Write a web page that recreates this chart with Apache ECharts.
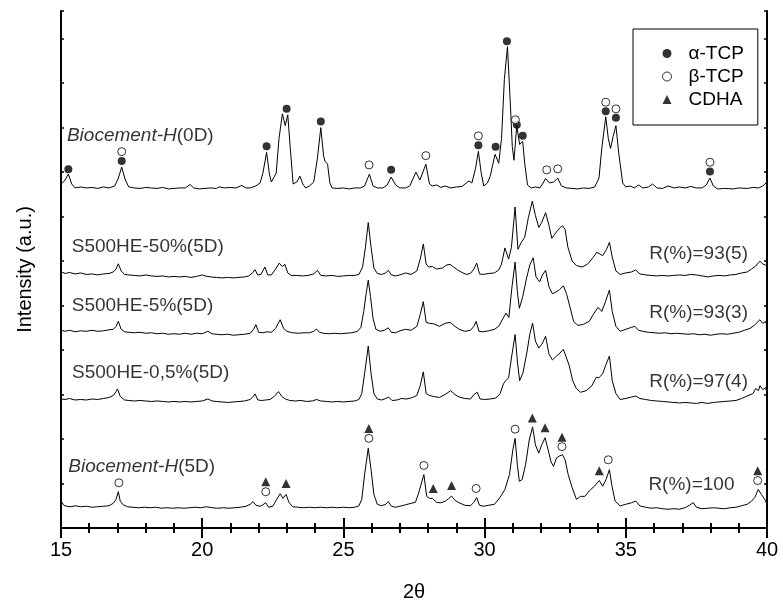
<!DOCTYPE html>
<html>
<head>
<meta charset="utf-8">
<script src="https://cdn.jsdelivr.net/npm/echarts@6/dist/echarts.min.js"></script>
<style>
html,body{margin:0;padding:0;background:#fff;}
#chart{width:783px;height:607px;}
</style>
</head>
<body>
<div id="chart"></div>
<script>
// ---- data (2θ, intensity a.u.) ----
const biocement0D = [[15.00,348],[15.12,351],[15.26,358],[15.38,348],[15.5,344],[15.7,345],[15.9,344],[16.1,344.5],[16.3,343.5],[16.5,345],[16.7,344],[16.9,346],[17.02,353],[17.15,365],[17.28,352],[17.4,345],[17.6,344],[17.8,343.5],[18.0,344.5],[18.2,344],[18.4,343.5],[18.6,344.5],[18.8,343],[19.0,343.5],[19.2,344],[19.4,344],[19.57,347.5],[19.7,344],[19.9,343],[20.1,343.5],[20.3,344],[20.5,343.5],[20.6,345],[20.8,344],[21.0,344.5],[21.2,344],[21.4,346.5],[21.55,344],[21.7,344],[21.9,346],[22.05,349],[22.15,359],[22.28,380],[22.38,358],[22.45,350],[22.52,351],[22.62,359],[22.72,394],[22.84,419],[22.94,407],[23.03,418],[23.12,384],[23.22,348],[23.35,350],[23.46,356],[23.56,348],[23.66,344],[23.8,346],[23.95,350],[24.08,374],[24.2,405],[24.3,376],[24.35,371],[24.44,368],[24.52,349],[24.6,344],[24.8,343.5],[25.0,344],[25.2,343],[25.4,344],[25.6,344],[25.75,346],[25.92,358],[26.05,346],[26.2,344],[26.4,344],[26.55,347],[26.69,355],[26.85,347],[27.0,344],[27.2,344],[27.35,346],[27.57,360],[27.71,352],[27.92,368],[28.05,348],[28.15,346],[28.3,347],[28.45,344.5],[28.6,346],[28.8,344],[29.0,345],[29.2,345.5],[29.35,349],[29.45,351],[29.55,349],[29.68,364],[29.78,381],[29.88,359],[29.97,346],[30.1,349],[30.2,356],[30.37,378],[30.5,369],[30.6,394],[30.7,454],[30.81,487],[30.92,424],[30.98,386],[31.04,372],[31.14,407],[31.24,388],[31.35,391],[31.42,369],[31.52,347],[31.65,344],[31.8,345],[31.95,344],[32.05,348],[32.16,353.5],[32.3,349],[32.45,350],[32.59,354],[32.72,346],[32.9,344],[33.1,343.5],[33.3,343],[33.5,344],[33.7,343.5],[33.9,345],[34.05,354],[34.15,384],[34.29,416],[34.38,394],[34.46,384],[34.55,396],[34.65,407],[34.75,379],[34.89,349],[35.0,345],[35.15,346],[35.3,344],[35.45,347],[35.6,344],[35.8,345],[35.95,348],[36.1,344],[36.3,343.5],[36.5,346],[36.7,344],[36.9,345],[37.1,344],[37.3,345.5],[37.5,344],[37.7,344],[37.85,347],[37.98,354],[38.1,346],[38.25,343],[38.5,343.5],[38.8,343],[39.0,344],[39.3,343.5],[39.5,344.5],[39.7,344],[39.85,346],[40.0,350]];

const s500he50 = [[15.0,259],[15.15,257.5],[15.3,258.5],[15.5,257],[15.7,258],[15.9,256.5],[16.1,257],[16.3,256],[16.5,257],[16.7,257.5],[16.85,259],[16.95,262],[17.03,267.3],[17.13,260],[17.25,256.5],[17.4,256],[17.6,255.5],[17.8,255],[18.0,256],[18.2,255],[18.4,254.5],[18.6,255],[18.8,254],[19.0,254.5],[19.2,254],[19.4,254.5],[19.6,253.5],[19.8,254.5],[20.0,256],[20.1,255],[20.3,254],[20.5,253.5],[20.7,253],[20.9,253.5],[21.1,253],[21.3,253.5],[21.5,254],[21.65,255],[21.78,258],[21.87,261.3],[21.97,256],[22.08,256.5],[22.22,264],[22.32,256],[22.45,256],[22.6,262],[22.73,268],[22.83,264.5],[22.93,266.7],[23.03,258],[23.15,255.5],[23.35,255.5],[23.55,255],[23.75,255.5],[23.95,257],[24.08,260.7],[24.2,255.5],[24.4,255],[24.6,255.5],[24.8,254.5],[25.0,255],[25.2,255.5],[25.4,255.5],[25.55,256.5],[25.68,264],[25.78,284],[25.88,309],[25.98,284],[26.08,263],[26.2,257.5],[26.35,256.5],[26.5,258],[26.59,260.7],[26.7,256],[26.85,255],[27.0,256],[27.2,258],[27.4,256.5],[27.6,260],[27.72,272],[27.83,287.3],[27.93,267],[28.02,264],[28.15,264.5],[28.3,262],[28.5,263],[28.65,266],[28.78,266.7],[28.9,264],[29.05,261],[29.2,258.5],[29.35,256.5],[29.5,257.5],[29.62,262],[29.72,268],[29.82,257],[29.95,256.5],[30.15,257.5],[30.35,258],[30.5,261],[30.6,267],[30.72,283.3],[30.85,272],[30.95,284],[31.08,324.7],[31.18,282],[31.3,289],[31.42,294],[31.55,314],[31.69,330.7],[31.8,316],[31.92,304],[32.02,309],[32.16,319],[32.28,306],[32.38,293],[32.48,297],[32.58,301],[32.68,304],[32.76,305.7],[32.85,302],[32.95,284],[33.1,270],[33.25,265.5],[33.45,264],[33.65,267],[33.85,274],[33.97,279],[34.18,275.5],[34.32,282],[34.42,289],[34.52,274],[34.65,260],[34.8,256.5],[35.0,258],[35.2,259],[35.35,261],[35.5,257],[35.7,256],[35.9,255.5],[36.1,255],[36.3,255.5],[36.5,255],[36.7,255.5],[36.9,256],[37.1,255.5],[37.3,256.5],[37.5,256],[37.7,255],[37.9,254],[38.1,255],[38.3,255.5],[38.5,255],[38.7,256],[38.9,256.5],[39.1,258],[39.3,259],[39.45,262],[39.6,265],[39.75,270],[39.85,267],[39.95,266],[40.0,264]];

const s500he5 = [[15.0,200],[15.15,199],[15.3,200],[15.5,198.5],[15.7,199.5],[15.9,199],[16.1,200],[16.3,199],[16.5,199.5],[16.7,200.5],[16.85,201],[16.95,204],[17.03,209],[17.13,201],[17.25,198.5],[17.4,198],[17.6,197.5],[17.8,198],[18.0,197],[18.2,197.5],[18.4,196.5],[18.6,197],[18.8,196],[19.0,196.5],[19.2,196],[19.4,197],[19.6,196],[19.8,197],[20.0,196.5],[20.2,199],[20.35,196.5],[20.5,196],[20.7,195.5],[20.9,196],[21.1,195],[21.3,195.5],[21.5,196],[21.7,197],[21.82,201],[21.9,205.7],[22.0,198],[22.15,197.5],[22.3,198.5],[22.45,198],[22.6,202],[22.76,210.7],[22.88,202],[23.0,199],[23.2,197.5],[23.4,197],[23.6,197.5],[23.8,197.5],[23.95,199],[24.05,201.3],[24.15,198],[24.3,197],[24.5,196.5],[24.7,197],[24.9,196.5],[25.1,197],[25.3,197.5],[25.5,199],[25.62,203],[25.72,219],[25.8,236],[25.88,250.7],[25.96,234],[26.05,212],[26.15,201],[26.3,199],[26.45,200],[26.59,202.5],[26.7,198],[26.85,197.5],[27.0,199.5],[27.2,201],[27.4,200],[27.6,204],[27.72,216],[27.83,229],[27.93,208],[28.05,207],[28.2,206.5],[28.4,204],[28.6,207],[28.78,208],[28.95,204],[29.1,201],[29.3,199],[29.5,200],[29.62,204],[29.7,209],[29.8,199],[29.95,198.5],[30.15,199.5],[30.35,201],[30.5,204],[30.65,212],[30.76,217.3],[30.86,213],[30.97,244],[31.08,269],[31.16,239],[31.23,222.3],[31.35,234],[31.48,252],[31.6,266],[31.72,273.3],[31.82,254],[31.95,249],[32.05,256],[32.16,260.7],[32.28,244],[32.4,237],[32.52,238.5],[32.65,241],[32.79,245],[32.9,237],[33.02,224],[33.15,209],[33.3,205],[33.5,206],[33.7,209],[33.85,216],[34.02,223.3],[34.15,219],[34.28,229],[34.42,240.7],[34.52,219],[34.65,204],[34.8,199],[35.0,201],[35.2,203],[35.32,204],[35.45,200],[35.6,199],[35.8,198],[36.0,197.5],[36.2,197],[36.4,197.5],[36.6,196.5],[36.8,197],[37.0,196.5],[37.2,196],[37.4,196.5],[37.6,195.5],[37.8,196],[38.0,195],[38.2,196],[38.4,196.5],[38.6,196],[38.8,197],[39.0,198],[39.2,200],[39.4,202],[39.55,205],[39.75,210.7],[39.85,207],[39.95,209],[40.0,204]];

const s500he05 = [[15.0,130.5],[15.15,130],[15.3,131],[15.5,129.5],[15.7,130],[15.9,129.5],[16.1,130.5],[16.3,130],[16.5,131],[16.7,132],[16.85,134],[16.95,138],[17.0,140.7],[17.1,133],[17.25,129.5],[17.4,129],[17.6,128.5],[17.8,129],[18.0,128.5],[18.2,128],[18.4,128.5],[18.6,128],[18.8,127.5],[19.0,128],[19.2,127.5],[19.4,128],[19.6,127.5],[19.8,128],[20.0,128.5],[20.2,130.5],[20.35,128.5],[20.5,128],[20.7,127.5],[20.9,127],[21.1,127.5],[21.3,128],[21.5,128.5],[21.7,130],[21.8,133],[21.87,135.7],[21.97,129.5],[22.1,129],[22.25,129.5],[22.4,130],[22.55,133],[22.7,138],[22.82,133],[22.95,130.5],[23.1,129],[23.3,128.5],[23.5,129],[23.7,128],[23.9,128.5],[24.05,130],[24.2,128.5],[24.4,128],[24.6,127.5],[24.8,128],[25.0,127.5],[25.2,128],[25.4,128.5],[25.55,130],[25.65,136],[25.75,156],[25.88,184],[25.98,156],[26.08,136],[26.2,130.5],[26.35,129.5],[26.5,131],[26.6,132.5],[26.72,129],[26.9,129.5],[27.05,131],[27.25,130.5],[27.45,132],[27.6,134],[27.72,144],[27.83,158],[27.93,136],[28.05,134],[28.2,133],[28.4,132],[28.6,135],[28.8,139],[28.95,135],[29.1,132.5],[29.3,131],[29.5,130.5],[29.62,135],[29.74,137.3],[29.84,130.5],[30.0,130],[30.2,130.5],[30.4,131.5],[30.55,136],[30.67,146],[30.75,149],[30.85,152],[30.95,172],[31.08,195.7],[31.16,169],[31.24,149],[31.36,157],[31.5,178],[31.6,196],[31.7,207.3],[31.8,189],[31.92,182],[32.03,186],[32.16,194],[32.28,176],[32.4,170],[32.55,174],[32.67,177],[32.79,180.7],[32.9,172],[33.0,164],[33.12,149],[33.25,141],[33.4,137.3],[33.6,139],[33.8,144],[33.95,152.3],[34.05,152],[34.18,156],[34.28,164],[34.42,174],[34.52,149],[34.65,136],[34.8,130],[35.0,131],[35.2,132.5],[35.35,133.5],[35.5,131],[35.7,130],[35.9,129],[36.1,128.5],[36.3,128],[36.5,127.5],[36.7,127],[36.9,126.5],[37.1,127],[37.3,126.5],[37.5,126],[37.7,127],[37.9,126],[38.1,127],[38.3,127.5],[38.5,128],[38.7,128.5],[38.9,129],[39.1,131],[39.3,133.5],[39.5,136],[39.6,141],[39.7,139],[39.75,144],[39.85,140],[39.95,142],[40.0,136]];

const biocement5D = [[15.0,27.3],[15.1,23],[15.2,22],[15.35,21.5],[15.5,22.5],[15.7,21.5],[15.9,22],[16.1,21],[16.3,21.5],[16.5,22],[16.7,22.5],[16.85,25],[16.95,29],[17.03,36.7],[17.1,27],[17.2,23.5],[17.35,21.5],[17.55,21],[17.75,20.5],[17.95,21],[18.15,20.5],[18.35,21],[18.55,20],[18.75,20.5],[18.95,20],[19.15,20.5],[19.35,20],[19.55,20.5],[19.75,21],[19.95,20.5],[20.15,21.5],[20.35,20.5],[20.55,20],[20.75,20.5],[20.95,20],[21.15,20.5],[21.35,21],[21.55,22],[21.7,24],[21.8,26.7],[21.9,23],[22.05,22],[22.15,23.5],[22.25,25.7],[22.35,21],[22.5,22],[22.62,28],[22.76,34.7],[22.86,30],[22.97,34],[23.07,26],[23.2,21.5],[23.4,21],[23.6,20.5],[23.8,21],[24.0,20.5],[24.2,21],[24.4,20.5],[24.6,21],[24.8,20.5],[25.0,21],[25.2,20.5],[25.4,21],[25.55,22.5],[25.65,29],[25.75,54],[25.88,80.7],[25.98,59],[26.08,34],[26.2,24],[26.35,22.5],[26.5,24],[26.59,26.7],[26.7,22],[26.85,21],[27.0,22],[27.2,23.5],[27.4,25],[27.55,26],[27.65,34],[27.75,44],[27.85,54],[27.95,32],[28.05,30],[28.15,30],[28.3,26],[28.45,25.5],[28.6,27],[28.72,29.5],[28.83,32.3],[28.95,28],[29.1,25.5],[29.3,23],[29.5,22.5],[29.62,26],[29.72,30.7],[29.82,23],[29.95,22],[30.15,23],[30.35,24],[30.54,30.7],[30.72,39],[30.88,54],[31.0,79],[31.08,90.7],[31.16,64],[31.23,47.3],[31.33,49],[31.45,64],[31.58,89],[31.7,102.3],[31.8,84],[31.92,75.7],[32.02,84],[32.14,91.3],[32.25,79],[32.35,67.3],[32.44,62.3],[32.55,71],[32.66,73],[32.76,74],[32.85,69],[32.96,54],[33.1,41],[33.25,29],[33.4,32],[33.55,32],[33.72,38],[33.88,42],[34.06,48],[34.18,42.3],[34.3,49],[34.42,59],[34.5,44],[34.62,27.3],[34.8,22.3],[35.0,24],[35.2,25.5],[35.35,27.3],[35.5,22.3],[35.7,21],[35.9,20],[36.1,20.5],[36.3,19.5],[36.5,19],[36.7,19.5],[36.9,19],[37.1,20.5],[37.25,23],[37.39,25.7],[37.5,21],[37.7,19.5],[37.9,20],[38.1,20.5],[38.3,20],[38.5,19.5],[38.7,20.5],[38.9,21],[39.1,22.5],[39.3,24],[39.45,27],[39.57,31],[39.69,39],[39.8,34],[39.92,29],[40.0,24]];

// phase markers
const alphaTCP = [[15.26,363],[17.15,371.3],[22.28,386.3],[22.99,424],[24.2,411.3],[26.69,362.3],[29.78,387.3],[30.39,385.7],[30.79,492.3],[31.14,408],[31.35,396.7],[34.29,421.7],[34.65,415],[37.98,360.7]];
const betaTCP = [[17.15,380.7],[25.91,367.3],[27.92,376.7],[29.78,396.7],[31.09,413],[32.2,362.3],[32.59,363.3],[34.29,430.7],[34.65,424],[37.98,370],
  [17.05,45.7],[22.25,36.7],[25.9,90.7],[27.85,63.3],[29.7,40],[31.08,100],[32.74,82.3],[34.38,69],[39.67,48]];
const cdha = [[22.25,46.7],[22.97,45],[25.9,100.7],[28.18,40],[28.83,43],[31.69,111.3],[32.14,101.3],[32.74,91.7],[34.06,58],[39.67,58]];

// trace names and annotation texts
const sampleNames = ['{i|Biocement-H}(0D)', 'S500HE-50%(5D)', 'S500HE-5%(5D)', 'S500HE-0,5%(5D)', '{i|Biocement-H}(5D)'];
const sampleAnchors = [[15.21,396.5],[15.38,285],[15.38,225],[15.39,157.5],[15.26,62.3]];
const ratioTexts = ['R(%)=93(5)', 'R(%)=93(3)', 'R(%)=97(4)', 'R(%)=100'];
const ratioAnchors = [[35.83,277],[35.83,218],[35.83,147.5],[35.8,44]];

const xTicks = {min: 15, max: 40, interval: 5};

// ---- chart ----
const FONT = '"Liberation Sans", Arial, Helvetica, sans-serif';
const chart = echarts.init(document.getElementById('chart'), null, {renderer: 'canvas'});

function traceSeries(data) {
  return {type: 'line', data: data, showSymbol: false, symbol: 'none', silent: true,
    lineStyle: {color: '#000', width: 1}, z: 2, animation: false};
}
const axisLineStyle = {show: true, lineStyle: {color: '#000', width: 2}};

const textItems = sampleNames.map((t, i) => ({value: sampleAnchors[i], name: t}))
  .concat(ratioTexts.map((t, i) => ({value: ratioAnchors[i], name: t})));

const option = {
  animation: false,
  backgroundColor: '#fff',
  grid: {left: 61, right: 16, top: 11, bottom: 73, containLabel: false},
  xAxis: [
    {type: 'value', min: xTicks.min, max: xTicks.max, interval: xTicks.interval, position: 'bottom',
      name: '2θ', nameLocation: 'middle', nameGap: 54,
      nameTextStyle: {fontSize: 20, color: '#000', fontFamily: FONT},
      axisLine: axisLineStyle,
      axisTick: {show: true, inside: true, length: 10, lineStyle: {color: '#000', width: 2}},
      minorTick: {show: true, splitNumber: 5, length: 5, lineStyle: {color: '#000', width: 2}},
      axisLabel: {show: true, margin: 12, fontSize: 20, color: '#000', fontFamily: FONT},
      splitLine: {show: false}, minorSplitLine: {show: false}},
    {type: 'value', min: xTicks.min, max: xTicks.max, interval: xTicks.interval, position: 'top',
      axisLine: axisLineStyle,
      axisTick: {show: true, inside: true, length: 10, lineStyle: {color: '#000', width: 2}},
      minorTick: {show: true, splitNumber: 5, length: 5, lineStyle: {color: '#000', width: 2}},
      axisLabel: {show: false}, splitLine: {show: false}}
  ],
  yAxis: [
    {type: 'value', min: 0, max: 523, interval: 45, position: 'left',
      name: 'Intensity (a.u.)', nameLocation: 'middle', nameGap: 26,
      nameTextStyle: {fontSize: 20, color: '#000', fontFamily: FONT},
      axisLine: axisLineStyle,
      axisTick: {show: true, inside: true, length: 3, lineStyle: {color: '#000', width: 1.5}},
      axisLabel: {show: false}, splitLine: {show: false}},
    {type: 'value', min: 0, max: 523, interval: 45, position: 'right',
      axisLine: axisLineStyle,
      axisTick: {show: true, inside: true, length: 3, lineStyle: {color: '#000', width: 1.5}},
      axisLabel: {show: false}, splitLine: {show: false}}
  ],
  legend: {
    orient: 'vertical', left: 633, top: 29,
    padding: [15, 14, 16, 29],
    borderColor: '#000', borderWidth: 1, backgroundColor: '#fff',
    itemWidth: 9, itemHeight: 9, itemGap: 4,
    textStyle: {fontSize: 19, color: '#000', fontFamily: FONT, padding: [0, 0, 0, 12]},
    selectedMode: false,
    data: [
      {name: 'α-TCP', icon: 'circle', itemStyle: {color: '#000', borderWidth: 0}},
      {name: 'β-TCP', icon: 'circle', itemStyle: {color: '#fff', borderColor: '#000', borderWidth: 1}},
      {name: 'CDHA', icon: 'triangle', itemStyle: {color: '#000', borderWidth: 0}}
    ]
  },
  series: [
    traceSeries(biocement0D),
    traceSeries(s500he50),
    traceSeries(s500he5),
    traceSeries(s500he05),
    traceSeries(biocement5D),
    {type: 'scatter', name: 'α-TCP', data: alphaTCP, symbol: 'circle', symbolSize: 8, z: 5,
      itemStyle: {color: '#000'}, silent: true},
    {type: 'scatter', name: 'β-TCP', data: betaTCP, symbol: 'circle', symbolSize: 8, z: 5,
      itemStyle: {color: '#fff', borderColor: '#000', borderWidth: 1}, silent: true},
    {type: 'scatter', name: 'CDHA', data: cdha, symbol: 'triangle', symbolSize: 9, z: 5,
      itemStyle: {color: '#000'}, silent: true},
    {type: 'scatter', name: 'labels', data: textItems, symbolSize: 0, silent: true, z: 6,
      label: {show: true, position: 'right', distance: 0,
        formatter: p => p.name,
        fontSize: 19, color: '#000', fontFamily: FONT,
        rich: {i: {fontStyle: 'italic', fontSize: 19, color: '#000', fontFamily: FONT}}}}
  ]
};
chart.setOption(option);
</script>
</body>
</html>
